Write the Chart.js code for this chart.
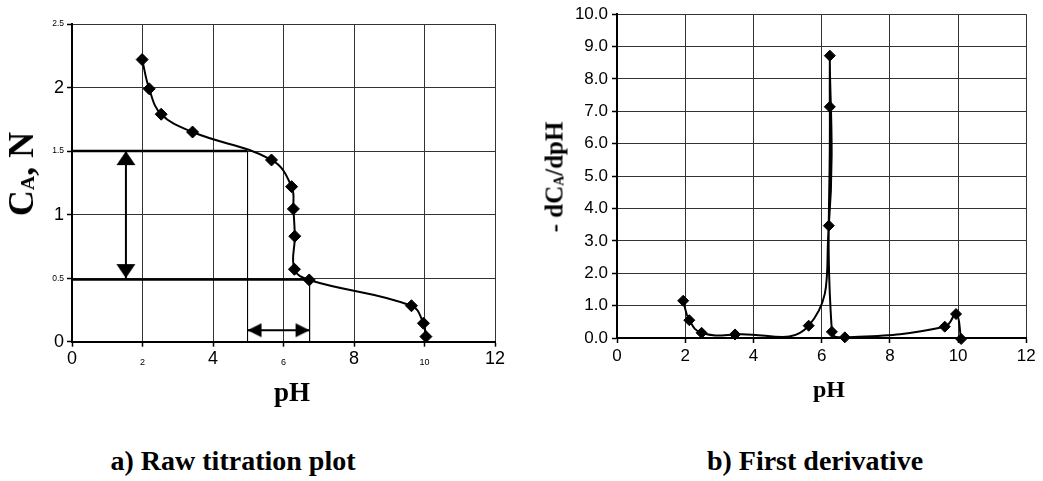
<!DOCTYPE html>
<html>
<head>
<meta charset="utf-8">
<script src="https://cdn.jsdelivr.net/npm/chart.js@4.4.1/dist/chart.umd.min.js"></script>
<style>
html,body{margin:0;padding:0;background:#fff;}
#wrap{position:relative;width:1043px;height:481px;overflow:hidden;background:#fff;}
canvas{position:absolute;top:0;}
.lbl{position:absolute;line-height:1;transform:translateX(-50%);font-family:"Liberation Serif","Times New Roman",serif;font-weight:bold;color:#000;white-space:nowrap;z-index:2;}
.ytitle{position:absolute;line-height:1;transform:translate(-50%,-50%) rotate(-90deg);font-family:"Liberation Serif","Times New Roman",serif;font-weight:bold;color:#000;white-space:nowrap;z-index:2;}
.ytitle sub{font-size:0.55em;vertical-align:-0.05em;line-height:0;}
</style>
</head>
<body>
<div id="wrap">
  <canvas id="cA" width="520" height="400" style="left:0;width:520px;height:400px"></canvas>
  <canvas id="cB" width="523" height="400" style="left:520px;width:523px;height:400px"></canvas>
  <div class="ytitle" style="left:21px;top:174px;font-size:36px">C<sub>A</sub>, N</div>
  <div class="ytitle" style="left:554px;top:177px;font-size:25px">- dC<sub>A</sub>/dpH</div>
  <div class="lbl" style="left:292px;top:379px;font-size:27px">pH</div>
  <div class="lbl" style="left:829px;top:377px;font-size:24px">pH</div>
  <div class="lbl" style="left:233px;top:447px;font-size:28px">a) Raw titration plot</div>
  <div class="lbl" style="left:815px;top:447px;font-size:28px">b) First derivative</div>
</div>
<script>
// ---------- data: a) raw titration plot ----------
const phA = [1.99, 2.19, 2.53, 3.42, 5.66, 6.23, 6.28, 6.32, 6.31, 6.73, 9.63, 9.97, 10.04];
const caA = [2.22, 1.99, 1.79, 1.65, 1.43, 1.22, 1.045, 0.83, 0.57, 0.486, 0.283, 0.145, 0.04];
const xTickLabelsA = ['0', '2', '4', '6', '8', '10', '12'];
const yTickLabelsA = ['0', '0.5', '1', '1.5', '2', '2.5'];
const smallXTicksA = [2, 6, 10];
const smallYTicksA = [0.5, 1.5, 2.5];
// annotation guides (data units)
const guideHiX = [0, 4.98], guideHiY = [1.5, 1.5];
const guideLoX = [0, 6.74], guideLoY = [0.49, 0.49];
const dropHiX = [4.98, 4.98], dropHiY = [1.5, 0];
const dropLoX = [6.74, 6.74], dropLoY = [0.49, 0];
const vArrowX = [1.53, 1.53], vArrowY = [1.5, 0.5];
const hArrowX = [4.98, 6.74], hArrowY = [0.09, 0.09];

// ---------- data: b) first derivative ----------
const phB = [1.94, 2.12, 2.48, 3.46, 5.62, 6.21, 6.24, 6.24, 6.30, 6.68, 9.61, 9.94, 10.09];
const dB  = [1.15, 0.55, 0.16, 0.11, 0.38, 3.47, 8.72, 7.14, 0.19, 0.02, 0.35, 0.74, -0.03];
const xTickLabelsB = ['0', '2', '4', '6', '8', '10', '12'];
const yTickLabelsB = ['0.0', '1.0', '2.0', '3.0', '4.0', '5.0', '6.0', '7.0', '8.0', '9.0', '10.0'];

function pts(xs, ys) { return xs.map((x, i) => ({x: x, y: ys[i]})); }

function arrowHead(len, wid) {
  const s = Math.ceil(2 * len + 4);
  const c = document.createElement('canvas');
  c.width = s; c.height = s;
  const g = c.getContext('2d');
  g.fillStyle = '#000';
  const cx = s / 2, cy = s / 2;
  g.beginPath();
  g.moveTo(cx, cy);
  g.lineTo(cx - wid / 2, cy + len);
  g.lineTo(cx + wid / 2, cy + len);
  g.closePath();
  g.fill();
  return c;
}
const headV = arrowHead(14, 19);
const headH = arrowHead(14, 14);

const SANS = '"Liberation Sans", Arial, sans-serif';

function guide(xs, ys, w) {
  return {data: pts(xs, ys), showLine: true, borderColor: '#000', borderWidth: w,
          pointRadius: 0, tension: 0, clip: 8};
}
function arrow(xs, ys, head, rots) {
  return {data: pts(xs, ys), showLine: true, borderColor: '#000', borderWidth: 2,
          pointStyle: [head, head], pointRotation: rots, pointRadius: 8, tension: 0, clip: 12};
}
function curve(xs, ys, r, t) {
  return {data: pts(xs, ys), showLine: true, borderColor: '#000', borderWidth: 2,
          pointStyle: 'rectRot', pointRadius: r, pointBorderWidth: 1,
          pointBackgroundColor: '#000', pointBorderColor: '#000', tension: t, clip: 10};
}

const gridCommon = {color: '#333', lineWidth: 1, tickLength: 5, tickColor: '#000', tickWidth: 1.5};

new Chart(document.getElementById('cA'), {
  type: 'scatter',
  data: {datasets: [
    curve(phA, caA, 6, 0.4),
    arrow(vArrowX, vArrowY, headV, [0, 180]),
    arrow(hArrowX, hArrowY, headH, [270, 90]),
    guide(guideHiX, guideHiY, 2.5),
    guide(guideLoX, guideLoY, 2.5),
    guide(dropHiX, dropHiY, 1),
    guide(dropLoX, dropLoY, 1)
  ]},
  options: {
    responsive: false, animation: false, devicePixelRatio: 1,
    layout: {padding: {left: 0, top: 24, right: 25, bottom: 0}},
    plugins: {legend: {display: false}, tooltip: {enabled: false}},
    events: [],
    scales: {
      x: {type: 'linear', min: 0, max: 12,
          ticks: {stepSize: 2, color: '#000', padding: 2, maxRotation: 0,
                  callback: (v, i) => xTickLabelsA[i],
                  font: ctx => (smallXTicksA.includes(ctx.tick && ctx.tick.value)
                    ? {family: SANS, size: 9, lineHeight: '28px'}
                    : {family: SANS, size: 18, lineHeight: 1.2})},
          grid: gridCommon, border: {color: '#000', width: 2},
          afterFit: s => { s.height = 400 - 341.7; }},
      y: {type: 'linear', min: 0, max: 2.5,
          ticks: {stepSize: 0.5, color: '#000', padding: 3,
                  callback: (v, i) => yTickLabelsA[i],
                  font: ctx => ({family: SANS, size: smallYTicksA.includes(ctx.tick && ctx.tick.value) ? 8.5 : 18})},
          grid: gridCommon, border: {color: '#000', width: 2},
          afterFit: s => { s.width = 72; }}
    }
  }
});

new Chart(document.getElementById('cB'), {
  type: 'scatter',
  data: {datasets: [curve(phB, dB, 5.5, 0.45)]},
  options: {
    responsive: false, animation: false, devicePixelRatio: 1,
    elements: {line: {capBezierPoints: false}},
    layout: {padding: {left: 0, top: 13.3, right: 16.7, bottom: 0}},
    plugins: {legend: {display: false}, tooltip: {enabled: false}},
    events: [],
    scales: {
      x: {type: 'linear', min: 0, max: 12,
          ticks: {stepSize: 2, color: '#000', padding: 3, maxRotation: 0,
                  callback: (v, i) => xTickLabelsB[i],
                  font: {family: SANS, size: 17}},
          grid: gridCommon, border: {color: '#000', width: 2},
          afterFit: s => { s.height = 400 - 338; }},
      y: {type: 'linear', min: 0, max: 10,
          ticks: {stepSize: 1, color: '#000', padding: 4,
                  callback: (v, i) => yTickLabelsB[i],
                  font: {family: SANS, size: 17}},
          grid: gridCommon, border: {color: '#000', width: 2},
          afterFit: s => { s.width = 97; }}
    }
  }
});
</script>
</body>
</html>
